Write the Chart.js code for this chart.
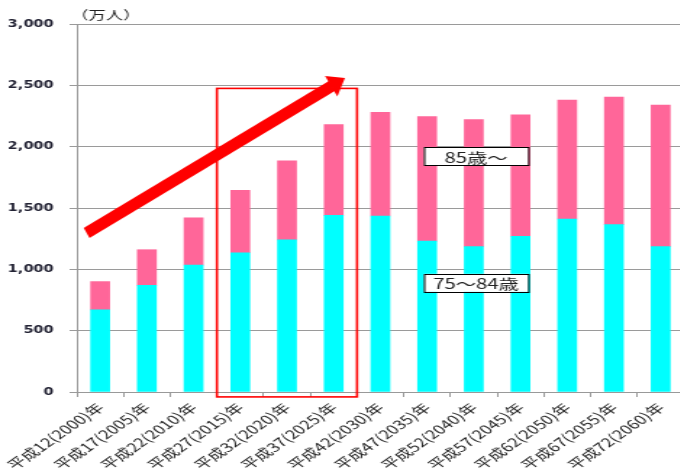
<!DOCTYPE html>
<html>
<head>
<meta charset="utf-8">
<script src="https://cdn.jsdelivr.net/npm/chart.js@4"></script>
<style>
  html, body { margin: 0; padding: 0; background: #fff; overflow: hidden; width: 680px; height: 472px; }
  #wrap { position: absolute; left: 0; top: 0; }
</style>
</head>
<body>
<div id="wrap"><canvas id="c" width="472" height="472" style="display:block;width:684px;height:472px;"></canvas></div>
<script>
// ---- data ----
const categories = [
  '平成12(2000)年', '平成17(2005)年', '平成22(2010)年', '平成27(2015)年',
  '平成32(2020)年', '平成37(2025)年', '平成42(2030)年', '平成47(2035)年',
  '平成52(2040)年', '平成57(2045)年', '平成62(2050)年', '平成67(2055)年',
  '平成72(2060)年'
];
const age75to84 = [670, 870, 1035, 1135, 1240, 1440, 1435, 1230, 1185, 1270, 1410, 1365, 1185];
const age85plus = [230, 290, 385, 510, 645, 740, 845, 1015, 1035, 990, 970, 1040, 1155];
const seriesNames = ['75～84歳', '85歳～'];
const unitLabel = '（万人）';
const yTickValues = [0, 500, 1000, 1500, 2000, 2500, 3000];

const SX = 684 / 472; // horizontal stretch of the canvas on screen

const annotate = {
  id: 'annotate',
  afterDatasetsDraw(chart) {
    const ctx = chart.ctx;
    const xs = chart.scales.x, ys = chart.scales.y;
    ctx.save();
    // unit label
    ctx.fillStyle = '#222';
    ctx.font = '12px "Noto Sans CJK JP"';
    ctx.textBaseline = 'middle';
    ctx.textAlign = 'left';
    ctx.fillText(unitLabel, chart.chartArea.left - 4, 15);

    // red rectangle around 2015-2025
    const rl = xs.getPixelForValue(2.5), rr = xs.getPixelForValue(5.5);
    const rt = ys.getPixelForValue(2475), rb = ys.getPixelForValue(-40);
    ctx.strokeStyle = '#ff0000';
    ctx.lineWidth = 1.6;
    ctx.strokeRect(rl, rt, rr - rl, rb - rt);

    // arrow (drawn in on-screen proportions)
    ctx.save();
    ctx.scale(1 / SX, 1);
    const x0 = xs.getPixelForValue(-0.29) * SX, y0 = ys.getPixelForValue(1296);
    const x1 = xs.getPixelForValue(5.24) * SX, y1 = ys.getPixelForValue(2560);
    const ang = Math.atan2(y1 - y0, x1 - x0);
    const headLen = 16, headHalf = 12;
    const bx = x1 - headLen * Math.cos(ang), by = y1 - headLen * Math.sin(ang);
    ctx.strokeStyle = '#ff0000';
    ctx.fillStyle = '#ff0000';
    ctx.lineWidth = 11.5;
    ctx.lineCap = 'butt';
    ctx.beginPath();
    ctx.moveTo(x0, y0);
    ctx.lineTo(bx + 1, by - 0.5);
    ctx.stroke();
    ctx.beginPath();
    ctx.moveTo(x1, y1);
    ctx.lineTo(bx + headHalf * Math.sin(ang), by - headHalf * Math.cos(ang));
    ctx.lineTo(bx - headHalf * Math.sin(ang), by + headHalf * Math.cos(ang));
    ctx.closePath();
    ctx.fill();
    ctx.restore();

    // series label boxes
    const boxL = xs.getPixelForValue(6.93);
    const boxW = 72;
    const boxes = [
      { text: seriesNames[1], yv: 1920 },
      { text: seriesNames[0], yv: 890 }
    ];
    ctx.font = '14px "Noto Sans CJK JP"';
    ctx.textAlign = 'center';
    ctx.textBaseline = 'middle';
    boxes.forEach(b => {
      const cy = ys.getPixelForValue(b.yv);
      ctx.fillStyle = '#ffffff';
      ctx.fillRect(boxL, cy - 9, boxW, 18);
      ctx.strokeStyle = '#000';
      ctx.lineWidth = 1;
      ctx.strokeRect(boxL + 0.5, Math.round(cy - 9) + 0.5, boxW, 18);
      ctx.fillStyle = '#222';
      ctx.fillText(b.text, boxL + boxW / 2, cy + 1);
    });
    ctx.restore();
  }
};

new Chart(document.getElementById('c'), {
  type: 'bar',
  data: {
    labels: categories,
    datasets: [
      { label: seriesNames[0], data: age75to84, backgroundColor: '#00ffff', barThickness: 13 },
      { label: seriesNames[1], data: age85plus, backgroundColor: '#ff6699', barThickness: 13 }
    ]
  },
  options: {
    responsive: false,
    animation: false,
    events: [],
    layout: { padding: { top: 24, left: 0, right: 0, bottom: 0 } },
    plugins: { legend: { display: false }, tooltip: { enabled: false }, title: { display: false } },
    scales: {
      x: {
        stacked: true,
        offset: true,
        grid: { offset: true, drawOnChartArea: false, drawTicks: true, tickLength: 5, color: '#999' },
        border: { display: true, color: '#999', width: 1 },
        ticks: {
          autoSkip: false, maxRotation: 45, minRotation: 45, padding: 3,
          color: '#222', font: { family: '"Noto Sans CJK JP"', size: 12.5 }
        },
        afterFit(scale) { scale.height = 80; }
      },
      y: {
        stacked: true,
        min: 0, max: 3000,
        afterBuildTicks(scale) { scale.ticks = yTickValues.map(v => ({ value: v })); },
        grid: { color: '#9a9a9a', lineWidth: 1, tickLength: 5 },
        border: { display: true, color: '#999', width: 1 },
        ticks: {
          padding: 11,
          color: '#222233',
          font: { family: '"DejaVu Sans"', size: 10, weight: 'bold' },
          callback: v => v.toLocaleString('en-US')
        },
        afterFit(scale) { scale.width = 53; }
      }
    }
  },
  plugins: [annotate]
});
</script>
</body>
</html>
